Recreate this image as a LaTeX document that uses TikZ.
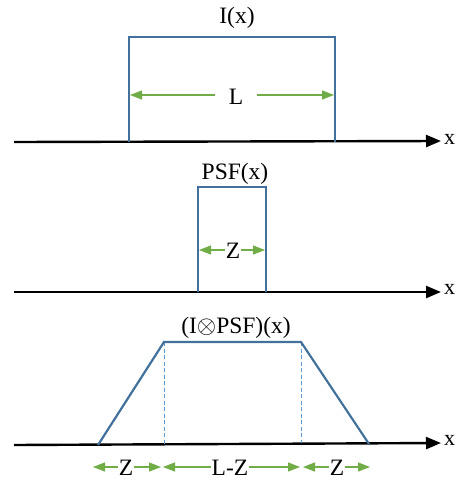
\documentclass[tikz,border=0pt]{standalone}
\usepackage{fontspec}
\setmainfont{Liberation Serif}
\usetikzlibrary{arrows.meta}
\definecolor{boxblue}{HTML}{41719C}
\definecolor{dashblue}{HTML}{5B9BD5}
\definecolor{arrgreen}{HTML}{70AD47}
\begin{document}
\begin{tikzpicture}[x=1pt,y=-1pt,
  axis/.style={line width=2.4pt,-{Triangle[length=15pt,width=12pt]}},
  outline/.style={boxblue,line width=2.2pt},
  dimline/.style={arrgreen,line width=1.1pt,-{Triangle[length=12pt,width=9pt]}},
  guide/.style={dashblue,line width=1pt,dash pattern=on 4pt off 2.5pt},
  lbl/.style={inner sep=1pt,font=\fontsize{23.5}{26}\selectfont},
  axlbl/.style={inner sep=1pt,font=\fontsize{22}{24}\selectfont,anchor=west}]
\useasboundingbox (0,0) rectangle (458,480);
% axes
\coordinate (a1s) at (14,142); \coordinate (a1e) at (441,141);
\coordinate (a2s) at (14,292); \coordinate (a2e) at (441,292);
\coordinate (a3s) at (14,445); \coordinate (a3e) at (441,443);
\draw[axis] (a1s) -- (a1e);
\draw[axis] (a2s) -- (a2e);
\draw[axis] (a3s) -- (a3e);
\node[axlbl] (x1) at (443,139) {x};
\node[axlbl] (x2) at (443,289) {x};
\node[axlbl] (x3) at (443,440) {x};
% box 1
\coordinate (b1a) at (129,142); \coordinate (b1b) at (129,37);
\coordinate (b1c) at (335,37); \coordinate (b1d) at (335,142);
\draw[outline] (b1a) -- (b1b) -- (b1c) -- (b1d);
\node[lbl] (t1) at (237,18) {I(x)};
\node[lbl] (L) at (236,97) {L};
\coordinate (L1) at (130,95); \coordinate (L2) at (334,95);
\coordinate (L1s) at (215,95); \coordinate (L2s) at (257,95);
\draw[dimline] (L1s) -- (L1);
\draw[dimline] (L2s) -- (L2);
% box 2
\coordinate (b2a) at (198,292); \coordinate (b2b) at (198,187);
\coordinate (b2c) at (266,187); \coordinate (b2d) at (266,292);
\draw[outline] (b2a) -- (b2b) -- (b2c) -- (b2d);
\node[lbl] (t2) at (235,174) {PSF(x)};
\node[lbl] (Z0) at (233,251) {Z};
\coordinate (Z0l) at (199,250); \coordinate (Z0r) at (265,250);
\draw[dimline] (Z0.west|-Z0l) -- (Z0l);
\draw[dimline] (Z0.east|-Z0r) -- (Z0r);
% trapezoid
\coordinate (tpa) at (98,445); \coordinate (tpb) at (164,342);
\coordinate (tpc) at (301,342); \coordinate (tpd) at (369,444);
\coordinate (g1) at (164,444); \coordinate (g2) at (301,443);
\draw[guide] (tpb) -- (g1);
\draw[guide] (tpc) -- (g2);
\draw[outline,line join=miter] (tpa) -- (tpb) -- (tpc) -- (tpd);
\node[lbl] (t3) at (236,328) {(I$\otimes$PSF)(x)};
% bottom dimensions
\node[lbl] (Z1) at (126,468) {Z};
\node[lbl] (LZ) at (230,468) {L-Z};
\node[lbl] (Z2) at (337,468) {Z};
\coordinate (d1) at (93,467); \coordinate (d2) at (161,467);
\coordinate (d3) at (163,467); \coordinate (d4) at (300,467);
\coordinate (d5) at (303,467); \coordinate (d6) at (370,467);
\draw[dimline] (Z1.west|-d1) -- (d1);
\draw[dimline] (Z1.east|-d2) -- (d2);
\draw[dimline] (LZ.west|-d3) -- (d3);
\draw[dimline] (LZ.east|-d4) -- (d4);
\draw[dimline] (Z2.west|-d5) -- (d5);
\draw[dimline] (Z2.east|-d6) -- (d6);
\end{tikzpicture}
\end{document}
